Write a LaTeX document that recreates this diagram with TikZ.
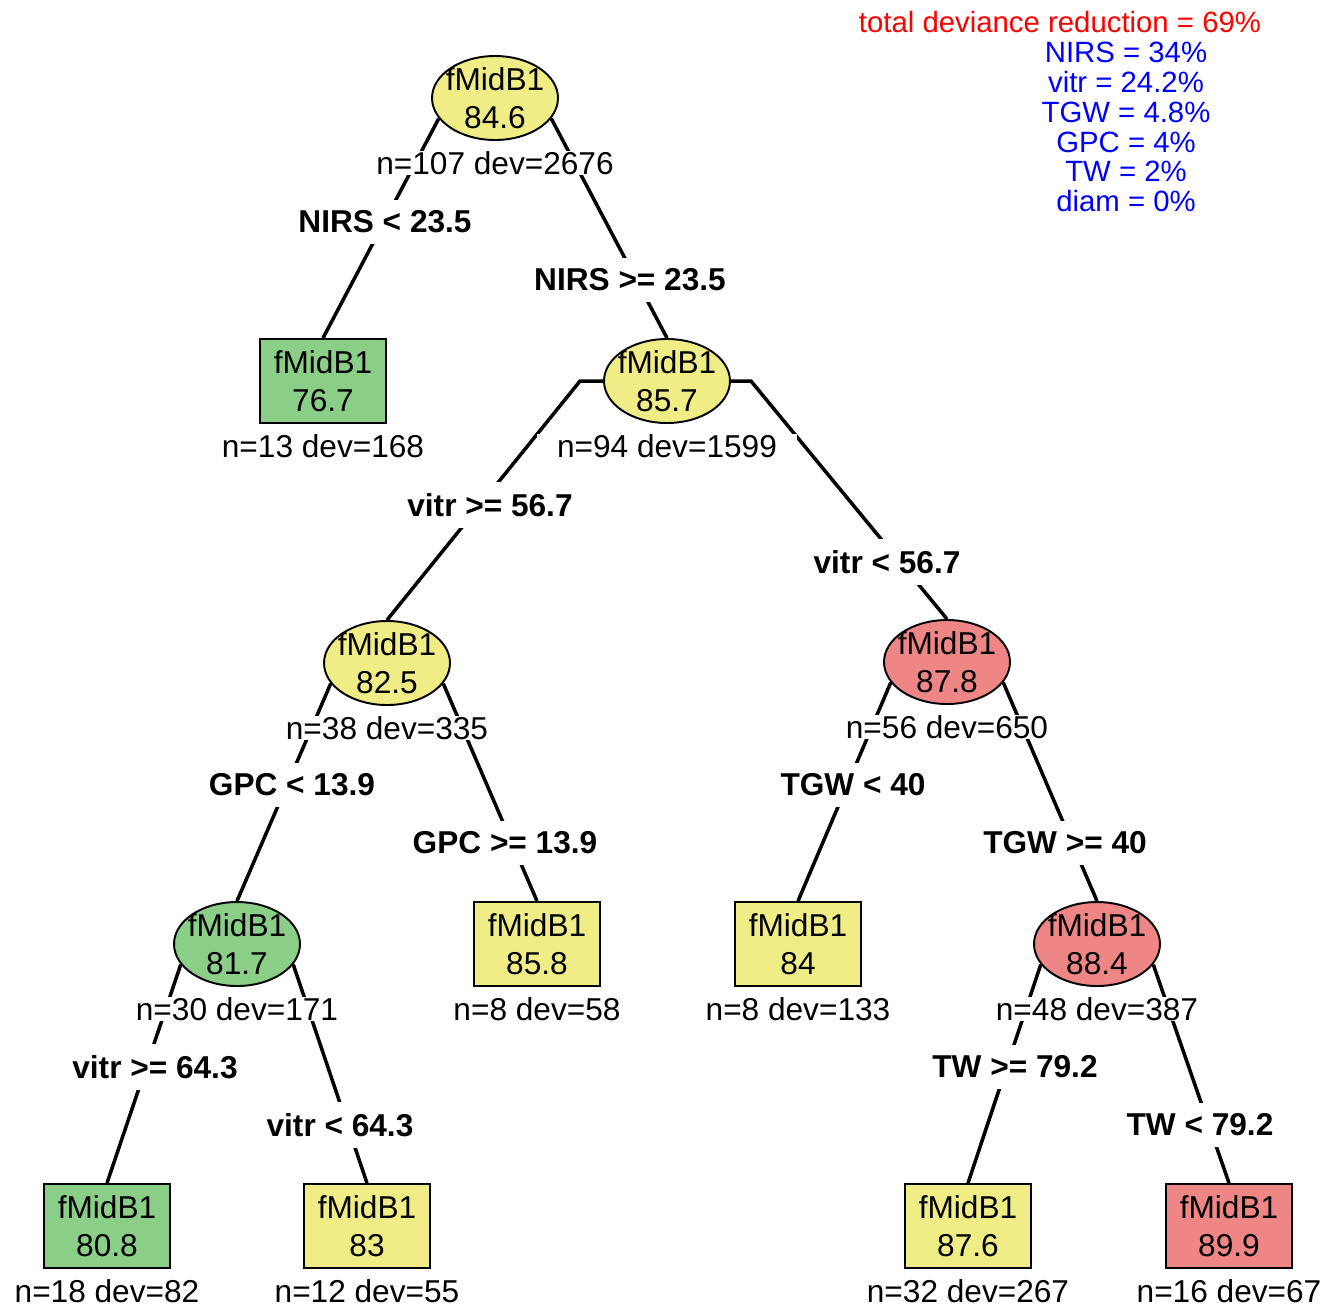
\documentclass[tikz,border=0pt]{standalone}
\usepackage{fontspec}
\setmainfont{Liberation Sans}
\usetikzlibrary{shapes.geometric,positioning}
\definecolor{lowgreen}{RGB}{138,206,136}
\definecolor{midyellow}{RGB}{240,237,134}
\definecolor{highred}{RGB}{238,134,134}
\tikzset{
  box/.style={draw=black,line width=1.1pt,minimum width=2.52cm,minimum height=1.68cm,align=center,font=\fontsize{18}{21.6}\selectfont},
  oval/.style={box,ellipse,inner xsep=-0.1cm,inner ysep=-0.05cm},
  leaf/.style={box,rectangle,inner sep=0pt},
  info/.style={fill=white,inner xsep=0.4cm,inner ysep=0pt,font=\fontsize{18}{21.6}\selectfont},
  split/.style={fill=white,inner xsep=0.1cm,inner ysep=0.22cm,font=\fontsize{18}{21.6}\selectfont\bfseries},
  branch/.style={line width=2pt},
}

\begin{document}
\begin{tikzpicture}[x=0.02cm,y=-0.02cm]
    \useasboundingbox (0,0) rectangle (1332,1306);

    % tree nodes
    \node[oval,fill=midyellow] (n1) at (495,98) {fMidB1\\84.6};
    \node[leaf,fill=lowgreen] (n2) at (323,381) {fMidB1\\76.7};
    \node[oval,fill=midyellow] (n3) at (667,381) {fMidB1\\85.7};
    \node[oval,fill=midyellow] (n4) at (387,663) {fMidB1\\82.5};
    \node[oval,fill=highred] (n5) at (947,662) {fMidB1\\87.8};
    \node[oval,fill=lowgreen] (n6) at (237,944) {fMidB1\\81.7};
    \node[leaf,fill=midyellow] (n7) at (537,944) {fMidB1\\85.8};
    \node[leaf,fill=midyellow] (n8) at (798,944) {fMidB1\\84};
    \node[oval,fill=highred] (n9) at (1097,944) {fMidB1\\88.4};
    \node[leaf,fill=lowgreen] (n10) at (107,1226) {fMidB1\\80.8};
    \node[leaf,fill=midyellow] (n11) at (367,1226) {fMidB1\\83};
    \node[leaf,fill=midyellow] (n12) at (968,1226) {fMidB1\\87.6};
    \node[leaf,fill=highred] (n13) at (1229,1226) {fMidB1\\89.9};

    % branches
    \draw[branch] (n1.200) -- (n2.north);
    \draw[branch] (n1.340) -- (n3.north);
    \draw[branch] (n3.west) -- ++(-23,0) -- (n4.north);
    \draw[branch] (n3.east) -- ++(20,0) -- (n5.north);
    \draw[branch] (n4.200) -- (n6.north);
    \draw[branch] (n4.340) -- (n7.north);
    \draw[branch] (n5.200) -- (n8.north);
    \draw[branch] (n5.340) -- (n9.north);
    \draw[branch] (n6.200) -- (n10.north);
    \draw[branch] (n6.340) -- (n11.north);
    \draw[branch] (n9.200) -- (n12.north);
    \draw[branch] (n9.340) -- (n13.north);

    % n and deviance under each node
    \node[info,below=0.2cm of n1] (i1) {n=107 dev=2676};
    \node[info,below=0.2cm of n2] (i2) {n=13 dev=168};
    \node[info,below=0.2cm of n3] (i3) {n=94 dev=1599};
    \node[info,below=0.2cm of n4] (i4) {n=38 dev=335};
    \node[info,below=0.2cm of n5] (i5) {n=56 dev=650};
    \node[info,below=0.2cm of n6] (i6) {n=30 dev=171};
    \node[info,below=0.2cm of n7] (i7) {n=8 dev=58};
    \node[info,below=0.2cm of n8] (i8) {n=8 dev=133};
    \node[info,below=0.2cm of n9] (i9) {n=48 dev=387};
    \node[info,below=0.2cm of n10] (i10) {n=18 dev=82};
    \node[info,below=0.2cm of n11] (i11) {n=12 dev=55};
    \node[info,below=0.2cm of n12] (i12) {n=32 dev=267};
    \node[info,below=0.2cm of n13] (i13) {n=16 dev=67};

    % split rules
    \node[split] (s1) at (385,222) {NIRS < 23.5};
    \node[split] (s2) at (630,280) {NIRS >= 23.5};
    \node[split] (s3) at (490,505) {vitr >= 56.7};
    \node[split] (s4) at (887,562) {vitr < 56.7};
    \node[split] (s5) at (292,785) {GPC < 13.9};
    \node[split] (s6) at (505,843) {GPC >= 13.9};
    \node[split] (s7) at (853,785) {TGW < 40};
    \node[split] (s8) at (1065,843) {TGW >= 40};
    \node[split] (s9) at (155,1067) {vitr >= 64.3};
    \node[split] (s10) at (340,1125) {vitr < 64.3};
    \node[split] (s11) at (1015,1067) {TW >= 79.2};
    \node[split] (s12) at (1200,1125) {TW < 79.2};

    % importance legend
    \node[text=red,font=\fontsize{16.7}{17}\selectfont] (total) at (1060,22) {total deviance reduction = 69\%};
    \node[text=blue,align=center,font=\fontsize{16.7}{17}\selectfont] (imp) at (1126,127)
      {NIRS = 34\%\\vitr = 24.2\%\\TGW = 4.8\%\\GPC = 4\%\\TW = 2\%\\diam = 0\%};
\end{tikzpicture}
\end{document}
